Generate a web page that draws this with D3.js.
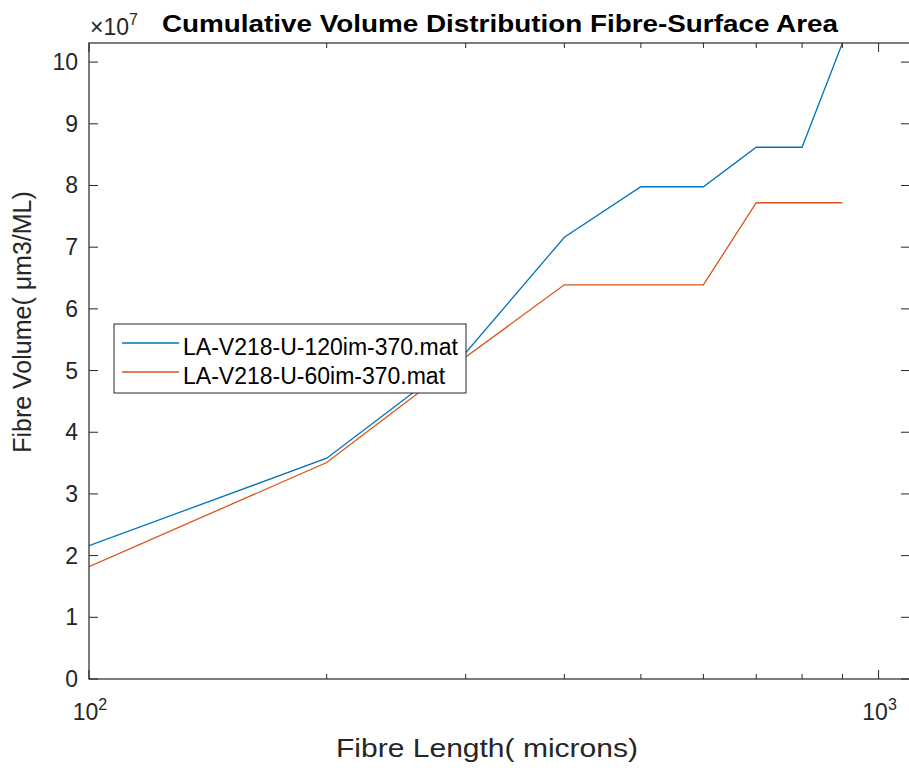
<!DOCTYPE html>
<html>
<head>
<meta charset="utf-8">
<script src="https://cdn.jsdelivr.net/npm/d3@7"></script>
<style>
  body { margin: 0; background: #fff; }
  svg text { font-family: "Liberation Sans", Arial, sans-serif; fill: #262626; }
</style>
</head>
<body>
<div id="graph"></div>
<script>
// fibre length (microns)
const lengths = [100, 200, 300, 400, 500, 600, 700, 800, 900];
// cumulative fibre volume, in units of 1e7
const vol120 = [2.16, 3.58, 5.29, 7.16, 7.98, 7.98, 8.62, 8.62, 10.31];
const vol60 = [1.82, 3.51, 5.22, 6.39, 6.39, 6.39, 7.72, 7.72, 7.72];
const seriesNames = ["LA-V218-U-120im-370.mat", "LA-V218-U-60im-370.mat"];
const seriesColors = ["#0072BD", "#D95319"];
const yTicks = [0, 1, 2, 3, 4, 5, 6, 7, 8, 9, 10];
const xMinor = [200, 300, 400, 500, 600, 700, 800, 900];
const xMajor = [100, 1000];

const width = 909, height = 768;
const mLeft = 89, mRight = 910, mTop = 43, mBottom = 679;

const svg = d3.select('#graph').append('svg')
    .attr('width', width).attr('height', height);

const xScale = d3.scaleLog().domain([100, 1096]).range([mLeft, mRight]);
const yScale = d3.scaleLinear().domain([0, 10.31]).range([mBottom, mTop]);

const axisColor = '#262626';
const fs = '23px';

// curves
const line = d3.line().x(d => xScale(d[0])).y(d => yScale(d[1]));
svg.append('clipPath').attr('id', 'clip').append('rect')
    .attr('x', mLeft).attr('y', mTop).attr('width', mRight - mLeft).attr('height', mBottom - mTop);

[vol120, vol60].forEach((vals, i) => {
  svg.append('path')
      .datum(lengths.map((x, j) => [x, vals[j]]))
      .attr('clip-path', 'url(#clip)')
      .attr('d', line)
      .attr('fill', 'none')
      .attr('stroke', seriesColors[i])
      .attr('stroke-width', 1.3);
});

// box
svg.append('rect').attr('x', mLeft).attr('y', mTop)
    .attr('width', mRight - mLeft).attr('height', mBottom - mTop)
    .attr('fill', 'none').attr('stroke', axisColor).attr('stroke-width', 1.2);

// y ticks, left and right
yTicks.forEach(t => {
  const y = yScale(t);
  svg.append('line').attr('x1', mLeft).attr('x2', mLeft + 9).attr('y1', y).attr('y2', y)
      .attr('stroke', axisColor);
  svg.append('line').attr('x1', mRight - 9).attr('x2', mRight).attr('y1', y).attr('y2', y)
      .attr('stroke', axisColor);
  svg.append('text').attr('x', mLeft - 11).attr('y', y + 8)
      .attr('text-anchor', 'end').style('font-size', fs).text(t);
});

// x ticks, bottom and top
xMinor.forEach(t => {
  const x = xScale(t);
  svg.append('line').attr('x1', x).attr('x2', x).attr('y1', mBottom).attr('y2', mBottom - 5).attr('stroke', axisColor);
  svg.append('line').attr('x1', x).attr('x2', x).attr('y1', mTop).attr('y2', mTop + 5).attr('stroke', axisColor);
});
xMajor.forEach(t => {
  const x = xScale(t);
  svg.append('line').attr('x1', x).attr('x2', x).attr('y1', mBottom).attr('y2', mBottom - 9).attr('stroke', axisColor);
  svg.append('line').attr('x1', x).attr('x2', x).attr('y1', mTop).attr('y2', mTop + 9).attr('stroke', axisColor);
  const lab = svg.append('text').attr('x', x + 1).attr('y', 720)
      .attr('text-anchor', 'middle').style('font-size', fs);
  lab.append('tspan').text('10');
  lab.append('tspan').attr('dy', -10).style('font-size', '16px').text(Math.log10(t));
});

// exponent label
const ex = svg.append('text').attr('x', 90).attr('y', 35).style('font-size', fs);
ex.append('tspan').text('\u00d710');
ex.append('tspan').attr('dy', -10).style('font-size', '16px').text('7');

// title
svg.append('text').attr('x', 162).attr('y', 32)
    .attr('textLength', 676).attr('lengthAdjust', 'spacingAndGlyphs')
    .style('font-size', '24px').style('font-weight', 'bold').style('fill', '#000')
    .text('Cumulative Volume Distribution Fibre-Surface Area');

// axis labels
svg.append('text').attr('x', 336).attr('y', 757)
    .attr('textLength', 302).attr('lengthAdjust', 'spacingAndGlyphs')
    .style('font-size', '25px').text('Fibre Length( microns)');
svg.append('text').attr('transform', 'translate(31,322) rotate(-90)')
    .attr('text-anchor', 'middle').style('font-size', '25px').text('Fibre Volume( \u03bcm3/ML)');

// legend
const lg = svg.append('g');
lg.append('rect').attr('x', 114).attr('y', 324).attr('width', 352).attr('height', 69)
    .attr('fill', '#fff').attr('stroke', axisColor).attr('stroke-width', 1);
seriesNames.forEach((name, i) => {
  const y = 343 + i * 29;
  lg.append('line').attr('x1', 122).attr('x2', 179).attr('y1', y).attr('y2', y)
      .attr('stroke', seriesColors[i]).attr('stroke-width', 1.3);
  lg.append('text').attr('x', 183).attr('y', y + 12).style('font-size', fs).style('fill', '#000').text(name);
});
</script>
</body>
</html>
